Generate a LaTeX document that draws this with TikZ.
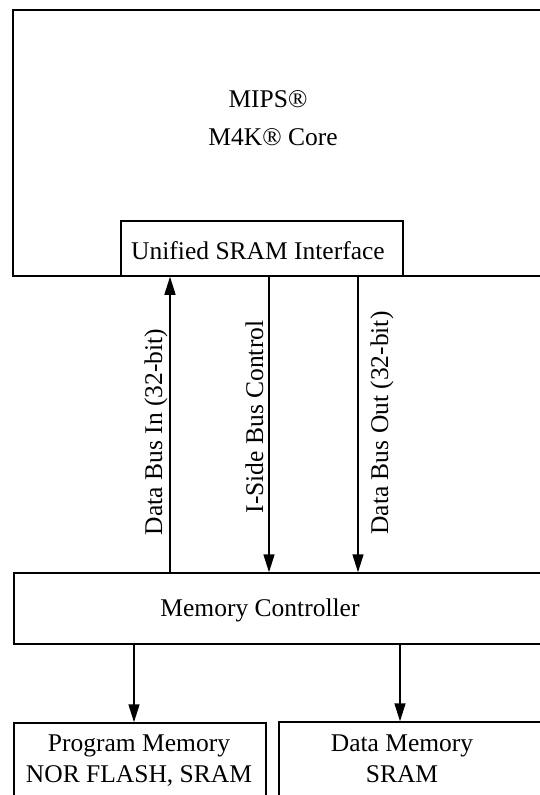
\documentclass[tikz,border=0pt]{standalone}
\usepackage{fontspec}
\setmainfont{Liberation Serif}
\usetikzlibrary{arrows.meta}
\begin{document}
\begin{tikzpicture}[x=1pt,y=-1pt,
  box/.style={draw,line width=1.5pt,inner sep=0pt},
  lbl/.style={inner sep=0pt,font=\fontsize{25.5}{30}\selectfont,anchor=base},
  vlbl/.style={lbl,rotate=90},
  arr/.style={line width=1.5pt,-{Triangle[length=18pt,width=11pt]}}]
\useasboundingbox (0,0) rectangle (540,795);
\clip (0,0) rectangle (540,795);
\fill[white] (0,0) rectangle (540,795);
% boxes
\node[box,minimum width=547pt,minimum height=266pt] (core) at (286.5,143) {};
\node[box,fill=white,minimum width=282pt,minimum height=55pt] (sram) at (262,248.5) {};
\node[box,minimum width=546pt,minimum height=71pt] (mc) at (287,608.5) {};
\node[box,minimum width=252pt,minimum height=98pt] (pm) at (140,772) {};
\node[box,minimum width=281pt,minimum height=98pt] (dm) at (419.5,771) {};
% texts
\node[lbl] (t1) at (268,107) {MIPS®};
\node[lbl] (t2) at (273,145) {M4K® Core};
\node[lbl] (t3) at (258,259) {Unified SRAM Interface};
\node[lbl] (t4) at (260,616) {Memory Controller};
\node[lbl] (t5) at (139,751) {Program Memory};
\node[lbl] (t6) at (139,782) {NOR FLASH, SRAM};
\node[lbl] (t7) at (402,751) {Data Memory};
\node[lbl] (t8) at (402,782) {SRAM};
% connectors
\coordinate (xa) at (170,0);
\coordinate (xb) at (269,0);
\coordinate (xc) at (358,0);
\coordinate (xd) at (134,0);
\coordinate (xe) at (400,0);
\draw[arr] (xa |- mc.north) -- (xa |- sram.south);
\draw[arr] (xb |- sram.south) -- (xb |- mc.north);
\draw[arr] (xc |- sram.south) -- (xc |- mc.north);
\draw[arr] (xd |- mc.south) -- (xd |- pm.north);
\draw[arr] (xe |- mc.south) -- (xe |- dm.north);
% rotated labels
\node[vlbl] (l1) at (162,432) {Data Bus In (32-bit)};
\node[vlbl] (l2) at (263,417) {I-Side Bus Control};
\node[vlbl] (l3) at (388,423) {Data Bus Out (32-bit)};
\end{tikzpicture}
\end{document}
